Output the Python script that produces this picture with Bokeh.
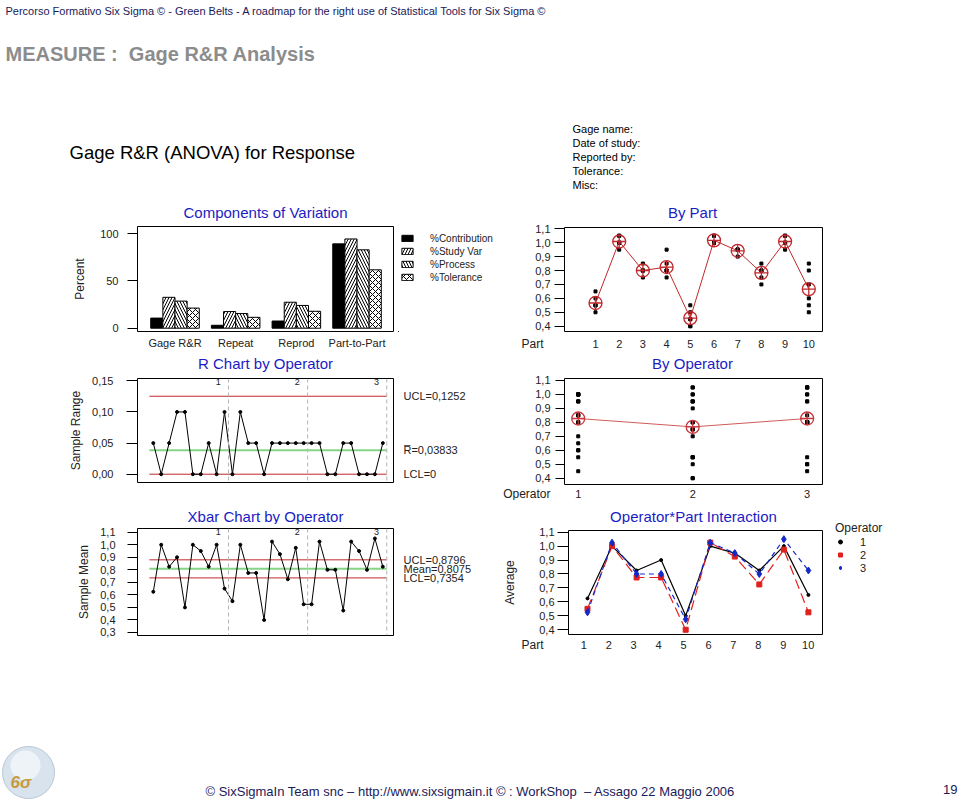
import numpy as np
from bokeh.plotting import figure
from bokeh.models import (Range1d, Label, FixedTicker, CustomJSTickFormatter, Span,
                          Legend, LegendItem, LinearAxis)
from bokeh.layouts import column, row
from bokeh.embed import file_html
from bokeh.resources import INLINE
from bokeh.core.properties import value

FONT = "Liberation Sans"
TITLE_BLUE = "#1c1cc4"
TXT = "#222222"
RED = "#c0282c"
GREEN = "#86d486"
NAVY = "#1a1a5a"

# ---------------- data ----------------
components = ["Gage R&R", "Repeat", "Reprod", "Part-to-Part"]
component_series = ["%Contribution", "%Study Var", "%Process", "%Tolerance"]
pct_contribution = [10.7, 3.1, 7.6, 89.3]
pct_study_var = [32.7, 17.6, 27.5, 94.5]
pct_process = [28.7, 15.5, 24.1, 83.0]
pct_tolerance = [21.3, 11.5, 17.9, 61.8]

parts = [1, 2, 3, 4, 5, 6, 7, 8, 9, 10]
operators = [1, 2, 3]
op1_trial1 = [0.65, 1.00, 0.85, 0.85, 0.55, 1.00, 0.95, 0.85, 1.00, 0.60]
op1_trial2 = [0.60, 1.00, 0.80, 0.95, 0.45, 1.00, 0.95, 0.80, 1.00, 0.70]
op2_trial1 = [0.55, 1.05, 0.80, 0.80, 0.40, 1.00, 0.95, 0.75, 1.00, 0.55]
op2_trial2 = [0.55, 0.95, 0.75, 0.75, 0.40, 1.05, 0.90, 0.70, 0.95, 0.50]
op3_trial1 = [0.50, 1.05, 0.80, 0.80, 0.45, 1.00, 0.95, 0.80, 1.05, 0.85]
op3_trial2 = [0.55, 1.00, 0.80, 0.80, 0.50, 1.05, 0.95, 0.80, 1.05, 0.80]

r_ucl, r_bar, r_lcl = 0.1252, 0.03833, 0.0
x_ucl, x_mean, x_lcl = 0.8796, 0.8075, 0.7354

gage_info = ["Gage name:", "Date of study:", "Reported by:", "Tolerance:", "Misc:"]

# ---------------- derived statistics ----------------
trials = {1: (op1_trial1, op1_trial2), 2: (op2_trial1, op2_trial2), 3: (op3_trial1, op3_trial2)}
op_part_mean = {o: [(a + b) / 2 for a, b in zip(*trials[o])] for o in operators}
op_part_range = {o: [round(abs(a - b), 3) for a, b in zip(*trials[o])] for o in operators}
xbar_values = sum((op_part_mean[o] for o in operators), [])
range_values = sum((op_part_range[o] for o in operators), [])
sample_idx = list(range(1, len(xbar_values) + 1))
dividers = [len(parts) * k + 0.5 for k in range(1, len(operators) + 1)]
line_span = [sample_idx[0] - 0.5, sample_idx[-1] + 0.5]

part_x, part_y = [], []
for o in operators:
    for t in trials[o]:
        part_x += parts
        part_y += t
part_means = [float(np.mean([trials[o][k][i] for o in operators for k in (0, 1)]))
              for i in range(len(parts))]

oper_x, oper_y = [], []
for o in operators:
    for t in trials[o]:
        oper_x += [o] * len(t)
        oper_y += t
oper_means = [float(np.mean(list(trials[o][0]) + list(trials[o][1]))) for o in operators]

L_BORDER = (137, 107)   # left column frames: x 137..393 in a 500 px figure
R_BORDER = (64, 138)    # right column frames: x 564..822 in a 460 px figure


# ---------------- helpers ----------------
def base(p, outline=None):
    p.grid.visible = False
    p.outline_line_color = outline
    p.outline_line_width = 1
    p.background_fill_color = "white"
    p.border_fill_color = "white"
    if "frame_align" in p.properties():
        p.frame_align = False
    return p


def chart(width, Y0, Y1, borders, fy0, fy1, xr, yr):
    p = figure(width=width, height=Y1 - Y0, x_range=Range1d(*xr), y_range=Range1d(*yr),
               toolbar_location=None, output_backend="svg",
               min_border_left=borders[0], min_border_right=borders[1],
               min_border_top=fy0 - Y0, min_border_bottom=Y1 - fy1)
    return base(p, "black")


def strip(width, Y0, Y1, borders, x_range, top=0, bottom=0, y_range=None):
    p = figure(width=width, height=Y1 - Y0, x_range=x_range,
               y_range=y_range if y_range is not None else Range1d(Y1, Y0),
               toolbar_location=None, output_backend="svg",
               x_axis_location=None, y_axis_location=None,
               min_border_left=borders[0], min_border_right=borders[1],
               min_border_top=top, min_border_bottom=bottom)
    return base(p)


def add_label(p, text, x, y, size=11, color=TXT, align="left", baseline="middle",
              style="normal", font=FONT):
    p.add_layout(Label(x=x, y=y, text=text, text_font=font, text_font_size=f"{size}px",
                       text_color=color, text_align=align, text_baseline=baseline,
                       text_font_style=style))


def title_strip(width, Y0, Y1, borders, frame_px, text, cx, cy):
    p = strip(width, Y0, Y1, borders, Range1d(*frame_px))
    add_label(p, text, cx, cy, size=15, color=TITLE_BLUE, align="center")
    return p


def style_y(p, ticks, code, tick_out, standoff, label=None, label_standoff=8):
    ax = p.yaxis[0]
    ax.ticker = FixedTicker(ticks=ticks)
    ax.formatter = CustomJSTickFormatter(code=code)
    ax.major_tick_out = tick_out
    ax.major_tick_in = 0
    ax.minor_tick_out = 0
    ax.minor_tick_in = 0
    ax.major_tick_line_color = "black"
    ax.axis_line_color = None
    ax.major_label_standoff = standoff
    ax.major_label_text_font = FONT
    ax.major_label_text_font_size = "11px"
    ax.major_label_text_color = TXT
    if label:
        ax.axis_label = label
        ax.axis_label_text_font = FONT
        ax.axis_label_text_font_size = "12px"
        ax.axis_label_text_font_style = "normal"
        ax.axis_label_text_color = TXT
        ax.axis_label_standoff = label_standoff


def text_axis(p, vals, labs, side, standoff, size="11px"):
    ax = LinearAxis(ticker=FixedTicker(ticks=vals),
                    formatter=CustomJSTickFormatter(args=dict(vals=vals, labs=labs), code="""
                        let b = 0;
                        for (let i = 0; i < vals.length; i++)
                            if (Math.abs(vals[i] - tick) < Math.abs(vals[b] - tick)) b = i;
                        return labs[b];"""))
    ax.major_tick_out = 0
    ax.major_tick_in = 0
    ax.minor_tick_out = 0
    ax.minor_tick_in = 0
    ax.axis_line_color = None
    ax.major_label_standoff = standoff
    ax.major_label_text_font = FONT
    ax.major_label_text_font_size = size
    ax.major_label_text_color = TXT
    p.add_layout(ax, side)


def tick_strip(width, Y0, Y1, x_range, vals, ypx, name, name_standoff):
    p = strip(width, Y0, Y1, R_BORDER, x_range)
    p.text(x=vals, y=[ypx] * len(vals), text=[str(v) for v in vals], text_font=value(FONT),
           text_font_size=value("11px"), text_color=TXT, text_align="center",
           text_baseline="middle")
    text_axis(p, [ypx], [name], "left", name_standoff, size="12px")
    return p


def comma(v, d):
    return f"{v:.{d}f}".replace(".", ",")


FMT1 = "return tick.toFixed(1).replace('.', ',');"
FMT2 = "return tick.toFixed(2).replace('.', ',');"
FMT0 = "return tick.toFixed(0);"
Y_TICKS = [0.4, 0.5, 0.6, 0.7, 0.8, 0.9, 1.0, 1.1]
LFR = (137, 393)
RFR = (564, 822)

# ---------------- header ----------------
head = strip(960, 0, 204, (0, 0), Range1d(0, 960))
add_label(head, "Percorso Formativo Six Sigma \u00a9 - Green Belts - A roadmap for the right use of Statistical Tools for Six Sigma \u00a9",
          5, 10, size=11, color=NAVY)
add_label(head, "MEASURE :\u00a0 Gage R&R Analysis", 5, 53, size=20, color="#8c8c8c", style="bold")
add_label(head, "Gage R&R (ANOVA) for Response", 69, 152, size=18.5, color="black")
for i, t in enumerate(gage_info):
    add_label(head, t, 572, 128 + 14 * i, size=11, color="black")

# ---------------- left column ----------------
t1 = title_strip(500, 204, 222, L_BORDER, LFR, "Components of Variation", 265, 212)

comp = chart(398, 222, 352, (137, 5), 226, 331, (0.382, 4.601), (-3.5, 107.7))
cx = np.arange(1, len(components) + 1)
series_vals = [pct_contribution, pct_study_var, pct_process, pct_tolerance]
fills = ["black", "white", "white", "white"]
hatches = [None, "right_diagonal_line", "left_diagonal_line", "diagonal_cross"]
bw = 0.2
bar_styles = []
for k, (vals, fc, h) in enumerate(zip(series_vals, fills, hatches)):
    kw = dict(hatch_pattern=h, hatch_color="black", hatch_scale=6, hatch_weight=1) if h else {}
    kw.update(fill_color=fc, line_color="black", line_width=1)
    bar_styles.append(kw)
    comp.vbar(x=cx + (k - 1.5) * bw, top=vals, bottom=0, width=bw, **kw)
style_y(comp, [0, 50, 100], FMT0, 10, 9, "Percent", 10)
ax = comp.xaxis[0]
ax.ticker = FixedTicker(ticks=list(cx))
ax.major_label_overrides = {int(i): c for i, c in zip(cx, components)}
ax.major_tick_out = 0
ax.major_tick_in = 0
ax.minor_tick_out = 0
ax.minor_tick_in = 0
ax.axis_line_color = None
ax.major_label_standoff = 5
ax.major_label_text_font = FONT
ax.major_label_text_font_size = "11px"
ax.major_label_text_color = TXT

# legend panel for the components chart: its ranges keep the (same) bars out of view
cleg = strip(102, 222, 352, (0, 0), Range1d(1000, 1102), top=4, bottom=21,
             y_range=Range1d(1000, 1105))
citems = []
for k, (vals, kw) in enumerate(zip(series_vals, bar_styles)):
    r = cleg.vbar(x=cx + (k - 1.5) * bw, top=vals, bottom=0, width=bw, **kw)
    citems.append(LegendItem(label=component_series[k], renderers=[r]))
cleg.add_layout(Legend(items=citems, location=(2, 48), padding=0, margin=0, spacing=1,
                       glyph_width=14, glyph_height=8, label_height=12, label_standoff=16,
                       label_text_font=FONT, label_text_font_size="10px",
                       label_text_color=TXT, border_line_color=None,
                       background_fill_alpha=0))

t2 = title_strip(500, 352, 373, L_BORDER, LFR, "R Chart by Operator", 265, 363)

rc = chart(500, 373, 500, L_BORDER, 378, 482, (-0.996, 31.35), (-0.0133, 0.1537))
for d in dividers:
    rc.add_layout(Span(location=d, dimension="height", line_color="#b4b4b4",
                       line_dash="4 3", line_width=1))
rc.line(line_span, [r_ucl, r_ucl], line_color=RED, line_width=1)
rc.line(line_span, [r_lcl, r_lcl], line_color=RED, line_width=1)
rc.line(line_span, [r_bar, r_bar], line_color=GREEN, line_width=2)
rc.line(sample_idx, range_values, line_color="black", line_width=1)
rc.scatter(sample_idx, range_values, marker="circle", size=3, color="black")
style_y(rc, [0.0, 0.05, 0.10, 0.15], FMT2, 11, 13, "Sample Range", 6)
rc.xaxis.visible = False
text_axis(rc, [r_ucl, r_bar, r_lcl],
          ["UCL=" + comma(r_ucl, 4), "R\u0305=" + comma(r_bar, 5), f"LCL={r_lcl:g}"], "right", 10)
for o, d in zip(operators, dividers):
    rc.add_layout(Label(x=d - 1.3, y=0.1485, text=str(o), text_font=FONT,
                        text_font_size="9px", text_color=TXT, text_align="center",
                        text_baseline="middle"))

t3 = title_strip(500, 500, 524, L_BORDER, LFR, "Xbar Chart by Operator", 265, 516)

xc = chart(500, 524, 660, L_BORDER, 528, 635, (-0.996, 31.35), (0.276, 1.1295))
for d in dividers:
    xc.add_layout(Span(location=d, dimension="height", line_color="#b4b4b4",
                       line_dash="4 3", line_width=1))
xc.line(line_span, [x_ucl, x_ucl], line_color=RED, line_width=1)
xc.line(line_span, [x_lcl, x_lcl], line_color=RED, line_width=1)
xc.line(line_span, [x_mean, x_mean], line_color=GREEN, line_width=2)
xc.line(sample_idx, xbar_values, line_color="black", line_width=1)
xc.scatter(sample_idx, xbar_values, marker="circle", size=3, color="black")
style_y(xc, [0.3] + Y_TICKS, FMT1, 10, 12, "Sample Mean", 6)
xc.xaxis.visible = False
text_axis(xc, [x_ucl, x_mean, x_lcl],
          ["UCL=" + comma(x_ucl, 4), "Mean=" + comma(x_mean, 4), "LCL=" + comma(x_lcl, 4)],
          "right", 10)
for o, d in zip(operators, dividers):
    xc.add_layout(Label(x=d - 1.3, y=1.1, text=str(o), text_font=FONT,
                        text_font_size="9px", text_color=TXT, text_align="center",
                        text_baseline="middle"))

left_col = column(t1, row(comp, cleg), t2, rc, t3, xc)

# ---------------- right column ----------------
r1 = title_strip(460, 204, 222, R_BORDER, RFR, "By Part", 692, 212)

bp = chart(460, 222, 336, R_BORDER, 227, 331, (-0.308, 10.578), (0.362, 1.109))
bp.scatter(part_x, part_y, marker="square", size=3, color="black")
bp.line(parts, part_means, line_color=RED, line_width=1)
bp.scatter(parts, part_means, marker="circle_cross", size=13, fill_color=None,
           line_color=RED, line_width=1.3)
style_y(bp, Y_TICKS, FMT1, 10, 4)
bp.xaxis.visible = False

bps = tick_strip(460, 336, 352, bp.x_range, parts, 343, "Part", 21)

r2 = title_strip(460, 352, 373, R_BORDER, RFR, "By Operator", 692, 363)

bo = chart(460, 373, 486, R_BORDER, 378, 484, (0.880, 3.134), (0.355, 1.114))
bo.scatter(oper_x, oper_y, marker="square", size=3, color="black")
bo.line(operators, oper_means, line_color="#d05a5a", line_width=1)
bo.scatter(operators, oper_means, marker="circle_cross", size=13, fill_color=None,
           line_color="#c8383c", line_width=1.3)
style_y(bo, Y_TICKS, FMT1, 9, 5)
bo.xaxis.visible = False

bos = tick_strip(460, 486, 500, bo.x_range, operators, 493, "Operator", 14)

IC_BORDER = (64, 8)
r3 = title_strip(330, 500, 524, IC_BORDER, RFR, "Operator*Part Interaction", 693, 516)

ic = chart(330, 524, 636, IC_BORDER, 530, 634, (0.226, 10.574), (0.366, 1.112))
op_colors = ["black", "#e0201c", "#1428c8"]
op_dash = ["solid", "10 5", "5 4"]
op_marker = ["circle", "square", "diamond"]
op_msize = [3, 5, 7]
for o, c, dsh, m, ms in zip(operators, op_colors, op_dash, op_marker, op_msize):
    ic.line(parts, op_part_mean[o], line_color=c, line_dash=dsh, line_width=1.2)
    ic.scatter(parts, op_part_mean[o], marker=m, size=ms, color=c)
style_y(ic, Y_TICKS, FMT1, 11, 3, "Average", 19)
ic.xaxis.visible = False

# legend panel for the interaction chart: its ranges keep the (same) series out of view
ileg = strip(130, 500, 636, (0, 0), Range1d(1000, 1130), y_range=Range1d(1000, 1136))
litems = []
for o, c, m in zip(operators, op_colors, op_marker):
    r = ileg.scatter(parts, op_part_mean[o], marker=m, color=c)
    litems.append(LegendItem(label=str(o), renderers=[r]))
ileg.add_layout(Legend(items=litems, location=(5, 62), padding=0, margin=0, spacing=0,
                       glyph_width=10, glyph_height=13, label_height=13, label_standoff=15,
                       label_text_font=FONT, label_text_font_size="11px",
                       label_text_color=TXT, title="Operator", title_text_font=FONT,
                       title_text_font_size="12px", title_text_font_style="normal",
                       title_text_color=TXT, title_standoff=0,
                       border_line_color=None, background_fill_alpha=0))

ics = tick_strip(460, 636, 660, ic.x_range, parts, 644, "Part", 21)

right_col = column(r1, bp, bps, r2, bo, bos, row(column(r3, ic), ileg), ics)

# ---------------- footer ----------------
foot = strip(960, 660, 800, (0, 0), Range1d(0, 960))
foot.circle(x=[28], y=[772], radius=26, fill_color="#d9e3ee", line_color="#b7c6d6", line_width=1)
foot.circle(x=[25], y=[765], radius=15, fill_color="#eef3f8", line_color=None)
add_label(foot, "6\u03c3", 10, 782, size=17, color="#c79a3a", style="bold italic")
add_label(foot, "\u00a9 SixSigmaIn Team snc \u2013 http://www.sixsigmain.it \u00a9 : WorkShop\u00a0 \u2013 Assago 22 Maggio 2006",
          205, 791, size=13, color=NAVY)
add_label(foot, "19", 957, 789, size=13, color=NAVY, align="right")

layout = column(head, row(left_col, right_col), foot)
open("out.html", "w").write(file_html(layout, INLINE))
